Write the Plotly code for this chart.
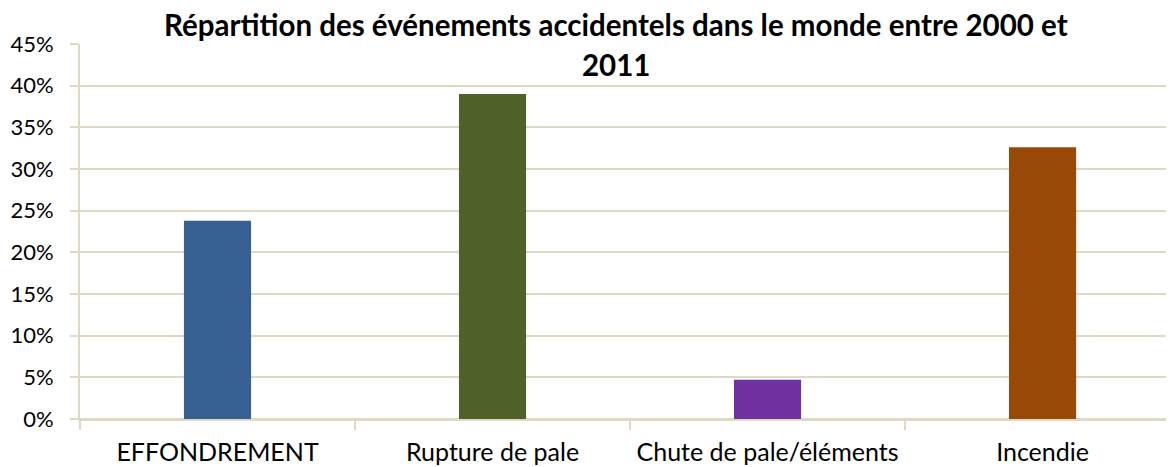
import plotly.graph_objects as go

categories = ["EFFONDREMENT", "Rupture de pale", "Chute de pale/éléments", "Incendie"]
values = [0.238, 0.390, 0.047, 0.326]
colors = ["#366092", "#4F6228", "#7030A0", "#984807"]
y_ticks = [0, 0.05, 0.10, 0.15, 0.20, 0.25, 0.30, 0.35, 0.40, 0.45]
y_labels = ["0%", "5%", "10%", "15%", "20%", "25%", "30%", "35%", "40%", "45%"]
title_lines = ["Répartition des événements accidentels dans le monde entre 2000 et", "2011"]

grid = "#DDD9C3"
font = "Lato, 'Open Sans', sans-serif"

fig = go.Figure(go.Bar(x=categories, y=values, marker=dict(color=colors, line=dict(width=0)),
                       width=0.244))

# page body has an 8px default margin: compensate
fig.update_layout(
    width=1166, height=459,
    margin=dict(l=72, r=0, t=36, b=48, autoexpand=False),
    paper_bgcolor="white", plot_bgcolor="white",
    showlegend=False,
    font=dict(family=font, color="black"),
)
for txt, yy in zip(title_lines, [1.052, 0.946]):
    fig.add_annotation(text="<b>" + txt + "</b>", xref="paper", yref="paper", x=0.4904, y=yy,
                       xanchor="center", yanchor="middle", showarrow=False,
                       font=dict(family=font, size=29.5, color="black"))

fig.update_xaxes(range=[-0.5, 3.478], showgrid=False, showline=True, linecolor=grid, linewidth=2,
                 ticks="outside", tickson="boundaries", ticklen=9, tickcolor=grid, tickwidth=2,
                 automargin=False, ticklabelstandoff=10,
                 tickfont=dict(size=25, family=font, color="black"))
fig.update_yaxes(range=[0, 0.45], tickvals=y_ticks, ticktext=y_labels, showgrid=True, gridcolor=grid,
                 gridwidth=2, showline=True, linecolor=grid, linewidth=2, ticks="outside", ticklen=8,
                 tickcolor=grid, tickwidth=2, zeroline=True, zerolinecolor=grid, zerolinewidth=2,
                 automargin=False, ticklabelstandoff=12,
                 tickfont=dict(size=22, family=font, color="black"))

fig.write_html("out.html")
